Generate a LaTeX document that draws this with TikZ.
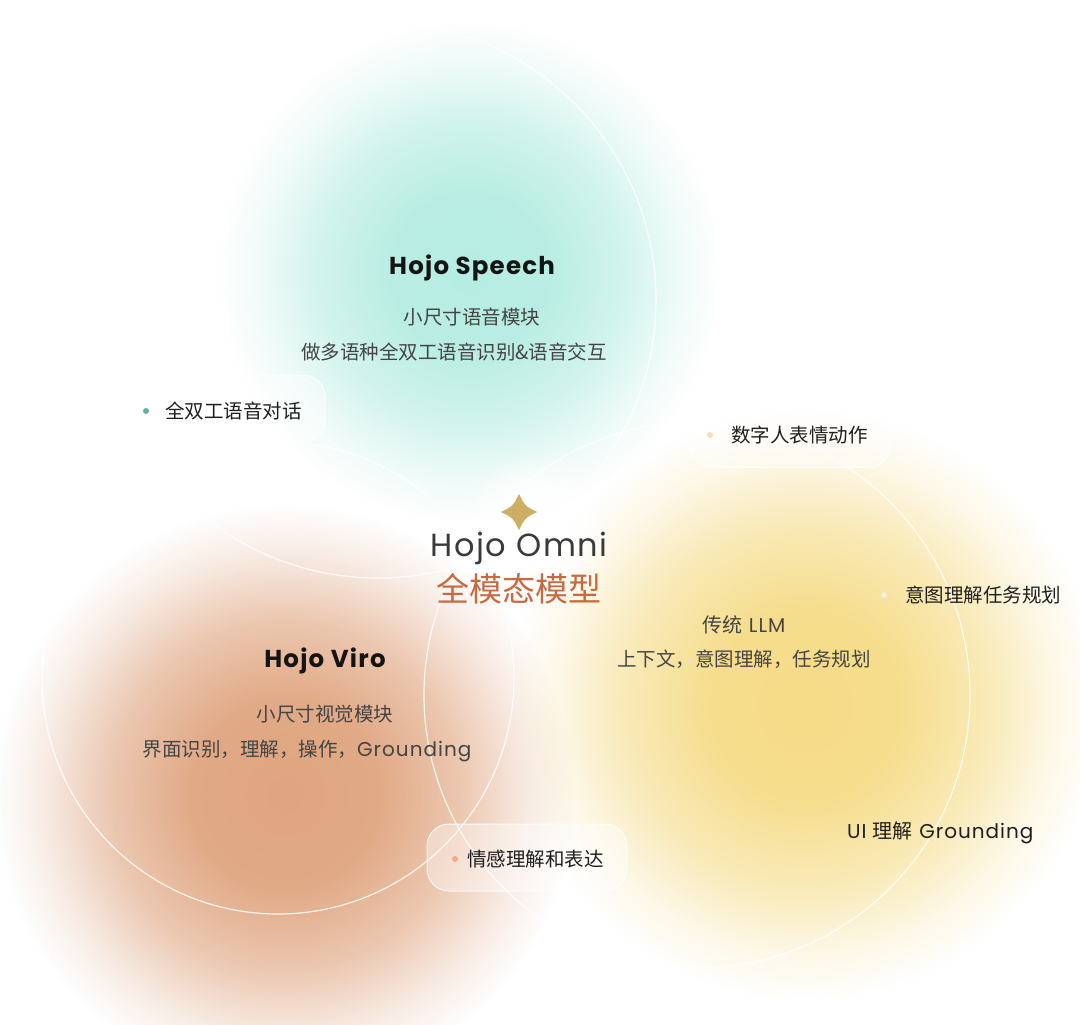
\documentclass[tikz,border=0pt]{standalone}
\usepackage{fontspec}
\setmainfont{Poppins}
\newfontfamily\cjk{Noto Sans CJK SC}
\newfontfamily\wide{Poppins}[LetterSpace=5.0]
\usetikzlibrary{positioning, fadings}

\definecolor{speechteal}{HTML}{B6EDE2}
\definecolor{viroorange}{HTML}{E0A580}
\definecolor{llmyellow}{HTML}{F6DC88}
\definecolor{omnigold}{HTML}{CDAE62}
\definecolor{omniorange}{HTML}{C86A3E}
\definecolor{omnigray}{HTML}{3A3A3A}
\definecolor{descgray}{HTML}{444444}
\definecolor{dotteal}{HTML}{6AADA3}
\definecolor{dotorange}{HTML}{F2A885}
\definecolor{dotyellow}{HTML}{F2E2B5}
\definecolor{dotpale}{HTML}{F6EFD9}

\pgfdeclareradialshading{blobshade}{\pgfpointorigin}{color(0bp)=(pgftransparent!0); color(8bp)=(pgftransparent!5); color(15bp)=(pgftransparent!38); color(21bp)=(pgftransparent!80); color(25bp)=(pgftransparent!100); color(50bp)=(pgftransparent!100)}
\pgfdeclarefading{blob}{\pgfuseshading{blobshade}}

\begin{document}
\begin{tikzpicture}[x=1pt, y=-1pt,
    blobfill/.style={path fading=blob},
    ring/.style={white, line width=1.2pt, draw opacity=0.85},
    pill/.style={draw=white, draw opacity=0.8, line width=1pt, fill=white, fill opacity=0.4, rounded corners=22pt, minimum width=200pt, minimum height=67pt},
    tagdot/.style={circle, inner sep=0pt, minimum size=6pt},
    tagtext/.style={font=\cjk\fontsize{19.5}{22}\selectfont, text=black!88, inner sep=0pt, anchor=west},
    title/.style={font=\wide\bfseries\fontsize{24.5}{28}\selectfont, text=black!92},
    desc/.style={font=\cjk\fontsize{19.5}{22}\selectfont, text=descgray},
    latin/.style={font=\wide\fontsize{20}{22}\selectfont}
  ]
    \useasboundingbox (0,0) rectangle (1080,1025);
    \fill[white] (0,0) rectangle (1080,1025);

    \fill[speechteal, blobfill] (470,272) circle (250pt);
    \fill[viroorange, blobfill] (285,795) circle (290pt);
    \fill[llmyellow, blobfill] (805,705) circle (295pt);
    \fill[white, blobfill] (535,526) circle (80pt);

    \draw[ring] (378,300) circle (278pt);
    \draw[ring] (278,678) circle (236pt);
    \draw[ring] (697,695) circle (273pt);

    \node[pill] (duplex) at (225,408.5) {};
    \node[tagdot, fill=dotteal] (duplexdot) at (146,411) {};
    \node[tagtext] (duplextext) at (165,411) {全双工语音对话};

    \node[pill] (avatar) at (790,434) {};
    \node[tagdot, fill=dotyellow] (avatardot) at (710,435) {};
    \node[tagtext] (avatartext) at (731,435) {数字人表情动作};

    \node[pill] (emotion) at (527,857.5) {};
    \node[tagdot, fill=dotorange] (emotiondot) at (455,859) {};
    \node[tagtext] (emotiontext) at (467,859) {情感理解和表达};

    \node[tagdot, fill=dotpale] (intentdot) at (884,595) {};
    \node[tagtext] (intenttext) at (905,595) {意图理解任务规划};
    \node[tagtext, latin] (uitext) at (847,833) {UI {\cjk 理解} Grounding};

    \node[title] (speech) at (472,268) {Hojo Speech};
    \node[desc] (speechsub) at (472,317) {小尺寸语音模块};
    \node[desc] (speechdesc) at (454,352) {做多语种全双工语音识别\&语音交互};

    \node[title] (viro) at (325,661) {Hojo Viro};
    \node[desc] (virosub) at (325,714) {小尺寸视觉模块};
    \node[desc] (virodesc) at (307,751) {界面识别，理解，操作，{\wide\fontsize{20}{22}\selectfont Grounding}};

    \node[desc, latin] (llm) at (744,625) {{\cjk 传统} LLM};
    \node[desc] (llmdesc) at (744,659) {上下文，意图理解，任务规划};

    \fill[omnigold] (519,494) .. controls (525,506) .. (537,512) .. controls (525,518) .. (519,530) .. controls (513,518) .. (501,512) .. controls (513,506) .. (519,494) -- cycle;
    \node[font=\wide\fontsize{32}{34}\selectfont, text=omnigray] (omni) at (519,548) {Hojo Omni};
    \node[font=\cjk\fontsize{33}{36}\selectfont, text=omniorange] (omnisub) at (519,589) {全模态模型};
\end{tikzpicture}
\end{document}
